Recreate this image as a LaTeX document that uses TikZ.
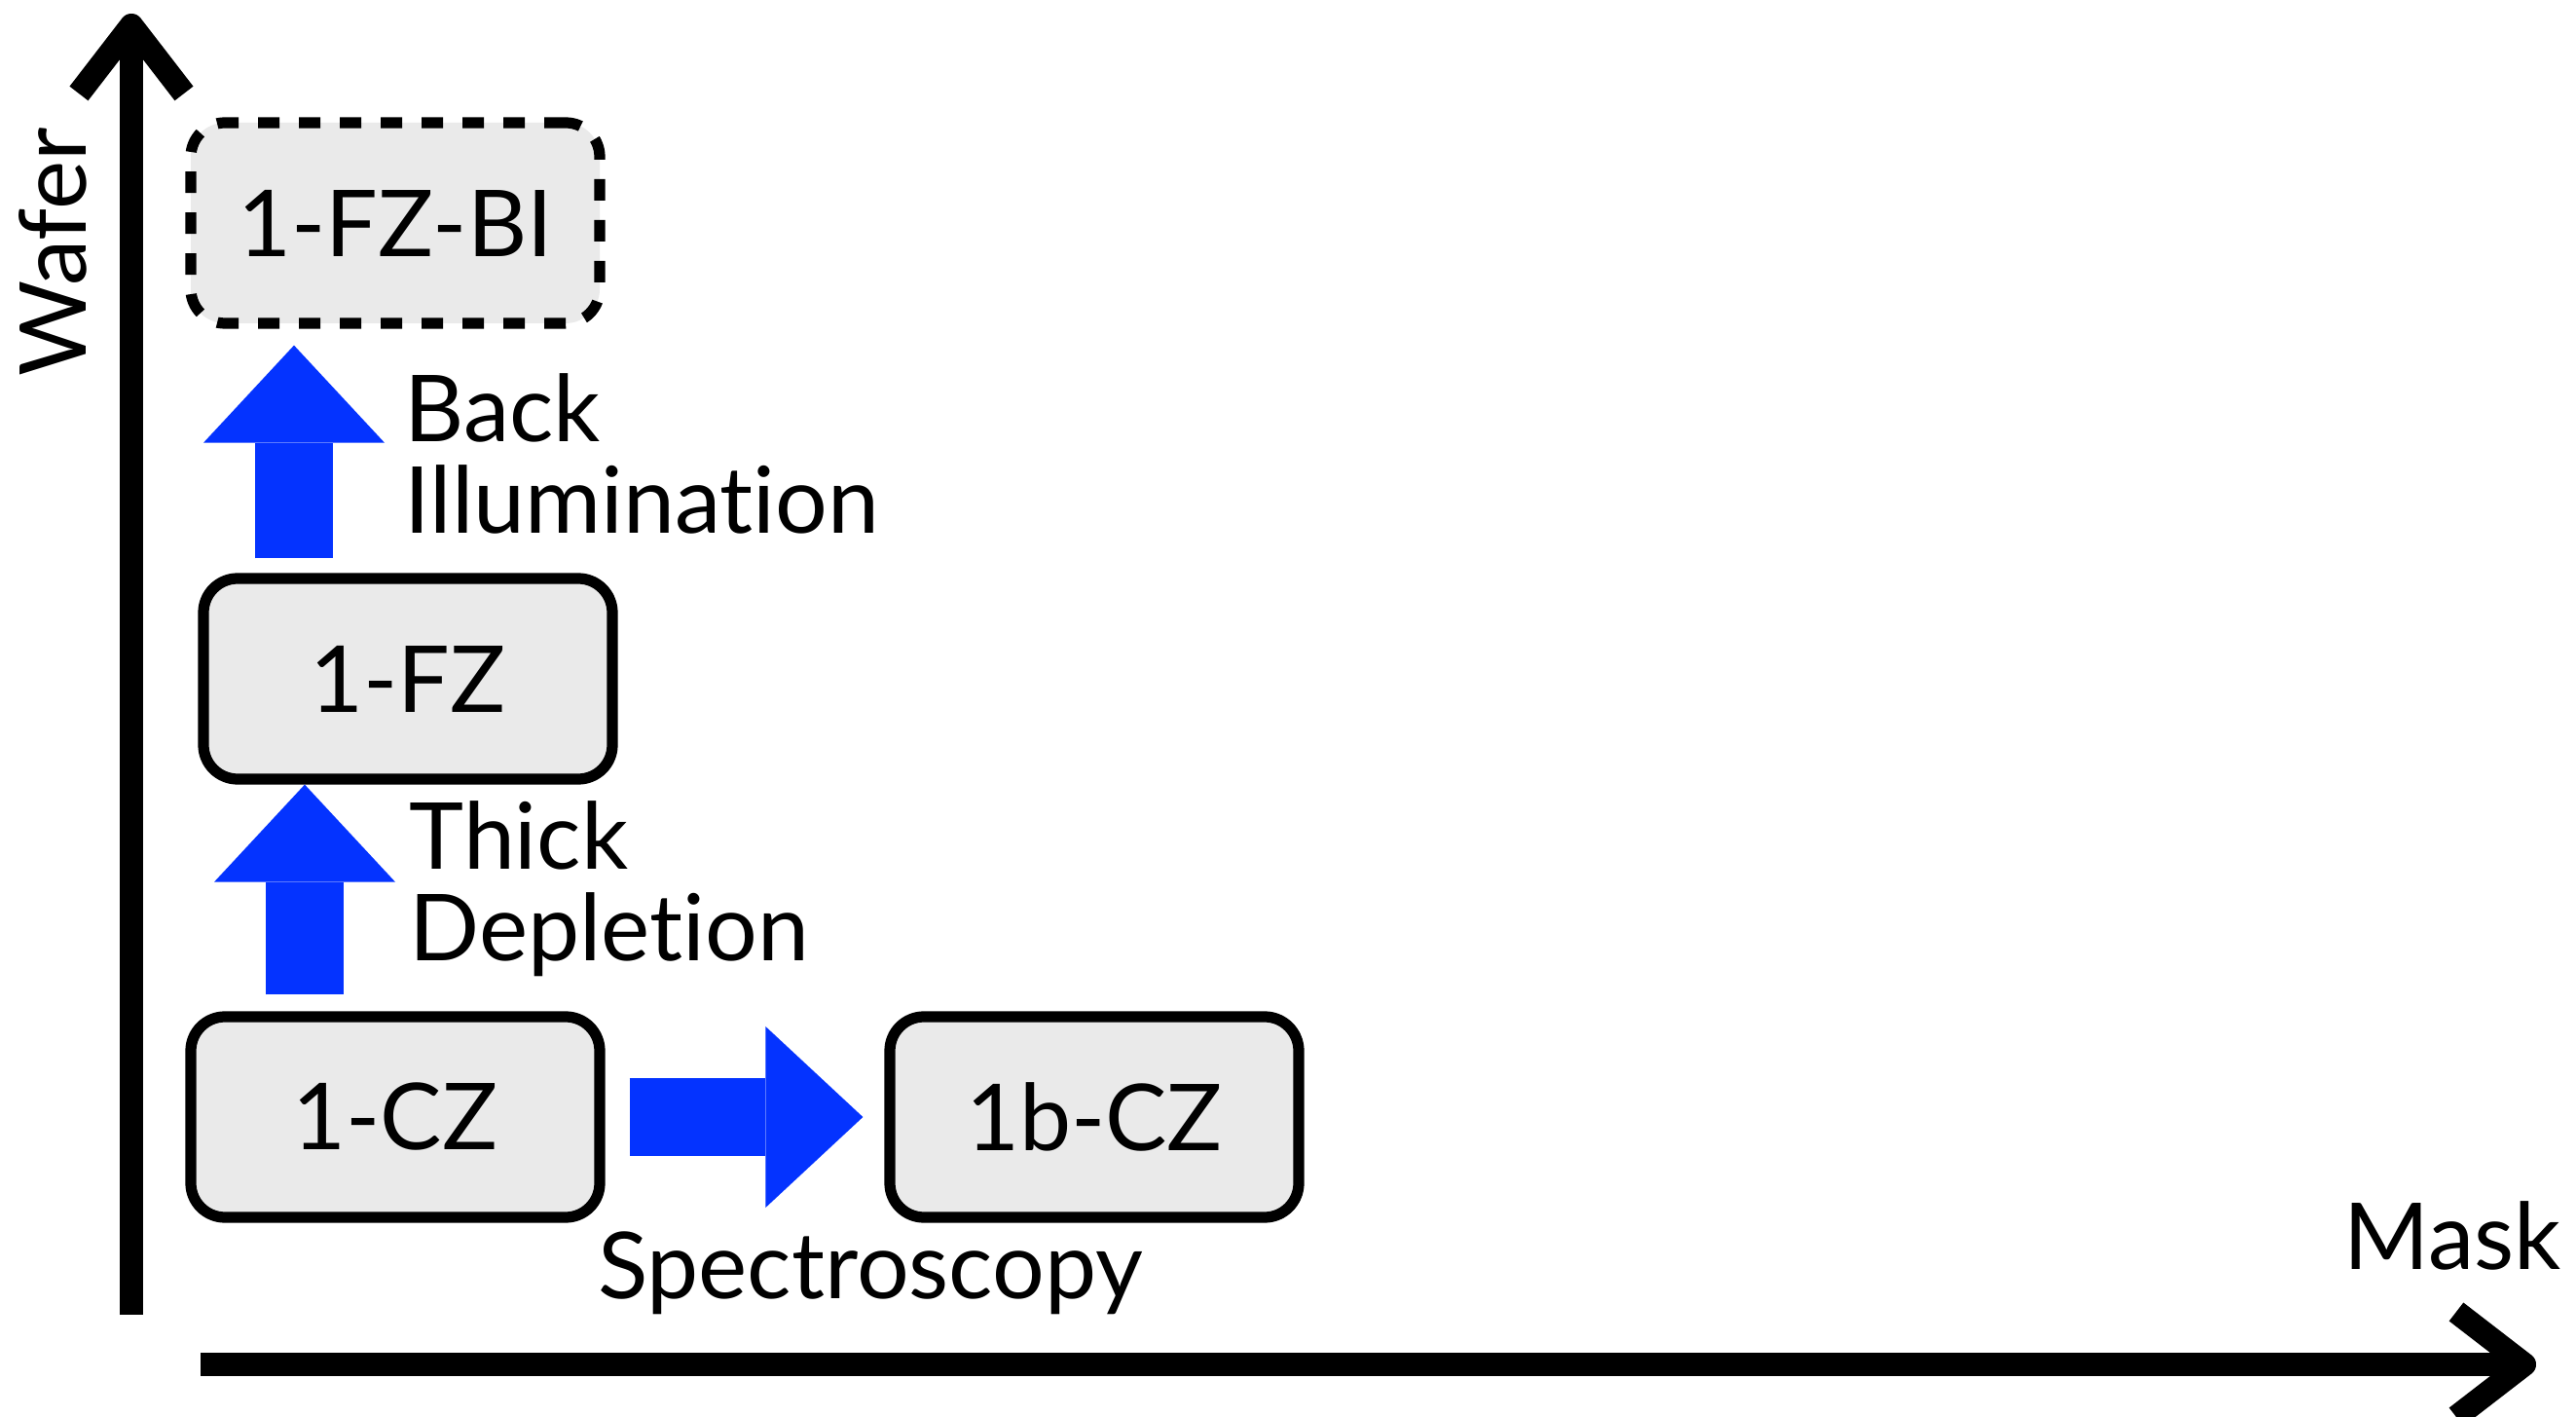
\documentclass[tikz,border=0pt]{standalone}
\usepackage{fontspec}
\setmainfont{Lato}[Ligatures=NoCommon]
\usetikzlibrary{calc}
\usetikzlibrary{arrows.meta}

\definecolor{flowblue}{RGB}{4,51,255}
\definecolor{boxgray}{RGB}{234,234,234}

\begin{document}
\begin{tikzpicture}[
  stage/.style={draw=black, line width=3.2pt, fill=boxgray, rounded corners=0.35cm,
    minimum width=4.2cm, minimum height=2.06cm, font=\fontsize{27}{27}\selectfont},
  flow/.style={flowblue, line width=0.8cm,
    -{Triangle[length=1cm, width=1.86cm, line width=0pt]}},
  axis/.style={black, line width=0.24cm,
    -{Straight Barb[length=0.7cm, width=1.08cm, line join=round]}},
  lbl/.style={font=\fontsize{27}{27}\selectfont, align=left, inner sep=0pt}
]

\useasboundingbox (0,0) rectangle (26.46,14.54);

% axes
\coordinate (yfoot) at (1.35,1.04);
\coordinate (ytip) at (1.35,14.40);
\coordinate (xfoot) at (2.06,0.53);
\coordinate (xtip) at (26.05,0.53);
\draw[axis] (yfoot) -- (ytip);
\draw[axis] (xfoot) -- (xtip);
\node[lbl, rotate=90, anchor=base] (wafer) at (0.88,11.95) {Wafer};
\node[lbl, anchor=base] (mask) at (25.19,1.51) {Mask};

% stages
\node[stage, dash pattern=on 0.22cm off 0.2cm] (fzbi) at (4.06,12.25) {1-FZ-BI};
\node[stage] (fz) at (4.19,7.57) {1-FZ};
\node[stage] (cz) at (4.06,3.07) {1-CZ};
\node[stage] (bcz) at (11.24,3.07) {1b-CZ};

% process steps
\coordinate (up1) at ($(fz.north)+(-1.17,0.15)$);
\draw[flow] (up1) -- ($(up1 |- fzbi.south)+(0,-0.17)$);
\coordinate (up2) at ($(cz.north)+(-0.93,0.17)$);
\draw[flow] (up2) -- (up2 |- fz.south);
\draw[flow] ($(cz.east)+(0.25,0)$) -- ($(bcz.west)+(-0.22,0)$);

% base anchor sits on the last line
\node[lbl, anchor=base west] (backill) at (4.15,9.06) {Back\\Illumination};
\node[lbl, anchor=base west] (thickdep) at (4.20,4.67) {Thick\\Depletion};
\node[lbl, anchor=base] (spec) at (8.94,1.21) {Spectroscopy};

\end{tikzpicture}
\end{document}
